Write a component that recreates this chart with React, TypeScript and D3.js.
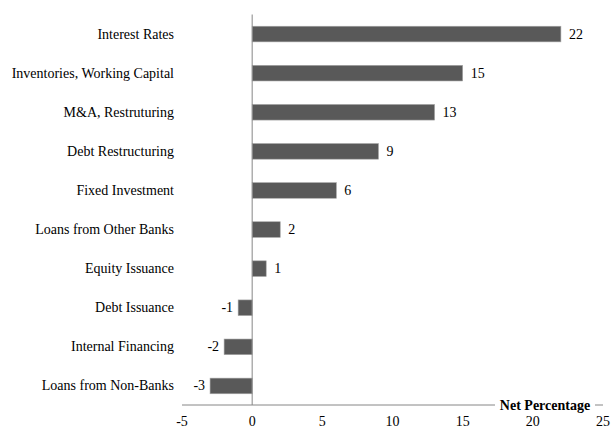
import React from "react";
import * as d3 from "d3";

const categories = [
  "Interest Rates",
  "Inventories, Working Capital",
  "M&A, Restruturing",
  "Debt Restructuring",
  "Fixed Investment",
  "Loans from Other Banks",
  "Equity Issuance",
  "Debt Issuance",
  "Internal Financing",
  "Loans from Non-Banks",
];
const values = [22, 15, 13, 9, 6, 2, 1, -1, -2, -3];
const xTicks = [-5, 0, 5, 10, 15, 20, 25];
const axisTitle = "Net Percentage";

const W = 612;
const H = 428;
const FONT = "'Liberation Serif', serif";

export default function App() {
  const x = d3.scaleLinear().domain([-5, 25]).range([182, 603]);
  const y = d3
    .scaleBand<string>()
    .domain(categories)
    .range([14.5, 405.5])
    .paddingInner(0.6)
    .paddingOuter(0.3);
  const axisY = 405;
  const bw = y.bandwidth();

  return (
    <svg
      width={W}
      height={H}
      style={{ position: "absolute", left: 0, top: 0, background: "#fff" }}
      fontFamily={FONT}
    >
      <rect x={0} y={0} width={W} height={H} fill="#fff" />
      {categories.map((c, i) => {
        const v = values[i];
        const y0 = y(c)!;
        const x0 = x(Math.min(0, v));
        const x1 = x(Math.max(0, v));
        const cy = y0 + bw / 2;
        return (
          <g key={c}>
            <rect
              x={x0}
              y={y0}
              width={x1 - x0}
              height={bw}
              fill="#595959"
              stroke="#a6a6a6"
              strokeWidth={0.6}
            />
            <text
              x={174}
              y={cy}
              textAnchor="end"
              dominantBaseline="central"
              fontSize={14}
              fill="#000"
            >
              {c}
            </text>
            <text
              x={v >= 0 ? x1 + 8 : x0 - 5}
              y={cy}
              textAnchor={v >= 0 ? "start" : "end"}
              dominantBaseline="central"
              fontSize={14}
              fill="#000"
            >
              {v}
            </text>
          </g>
        );
      })}
      {/* x axis line */}
      <line x1={x(-5)} x2={x(25)} y1={axisY} y2={axisY} stroke="#868686" strokeWidth={1} />
      {/* zero axis */}
      <line x1={x(0)} x2={x(0)} y1={14.5} y2={axisY} stroke="#868686" strokeWidth={1} />
      {xTicks.map((t) => (
        <text
          key={t}
          x={x(t)}
          y={421}
          textAnchor="middle"
          dominantBaseline="central"
          fontSize={14}
          fill="#000"
        >
          {t}
        </text>
      ))}
      <rect x={495} y={396} width={100} height={18} fill="#fff" />
      <text
        x={545}
        y={405}
        textAnchor="middle"
        dominantBaseline="central"
        fontSize={14}
        fontWeight="bold"
        fill="#000"
      >
        {axisTitle}
      </text>
    </svg>
  );
}
